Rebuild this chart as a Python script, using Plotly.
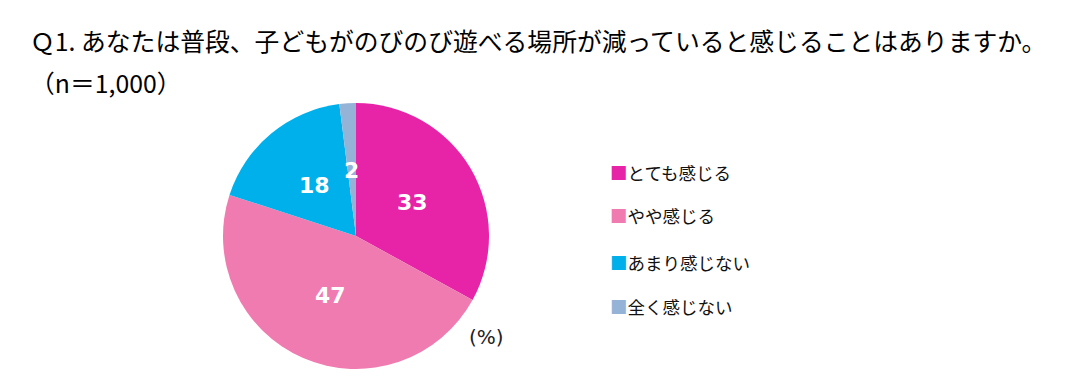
import math
import plotly.graph_objects as go

labels = ["とても感じる", "やや感じる", "あまり感じない", "全く感じない"]
values = [33, 47, 18, 2]
colors = ["#E724A7", "#EF7BB1", "#00B0EA", "#95B3D7"]
title_line1 = "Ｑ1. あなたは普段、子どもがのびのび遊べる場所が減っていると感じることはありますか。"
title_line2 = "（n＝1,000）"
unit_label = "(%)"

W, H = 1068, 391
cx, cy, r = 356, 236, 133

fig = go.Figure()
fig.add_trace(go.Pie(
    labels=labels, values=values, sort=False, direction="clockwise", rotation=0,
    marker=dict(colors=colors, line=dict(width=0)),
    textinfo="none", showlegend=False, hoverinfo="label+value",
    domain=dict(x=[(cx - r) / W, (cx + r) / W], y=[(H - cy - r) / H, (H - cy + r) / H]),
))

font_jp = "Noto Sans CJK JP"
ann = [
    dict(text=title_line1, x=28 / W, y=1 - 40 / H, xanchor="left", yanchor="middle",
         font=dict(family=font_jp, size=24.8, color="#000")),
    dict(text=title_line2, x=28 / W, y=1 - 82 / H, xanchor="left", yanchor="middle",
         font=dict(family=font_jp, size=24.8, color="#000")),
    dict(text=unit_label, x=486 / W, y=1 - 337 / H, xanchor="center", yanchor="middle",
         font=dict(family="DejaVu Sans", size=20, color="#222")),
]
# value labels placed at slice mid-angles
total = sum(values)
cum = 0
for v in values:
    mid = (cum + v / 2) / total * 2 * math.pi
    cum += v
    lx = cx + 0.49 * r * math.sin(mid)
    ly = cy - 0.49 * r * math.cos(mid)
    ann.append(dict(text=f"<b>{v}</b>", x=lx / W, y=1 - ly / H, xanchor="center", yanchor="middle",
                    font=dict(family="DejaVu Sans", size=22, color="white")))

leg_y = [173, 216, 262, 306]
for lab, col, yy in zip(labels, colors, leg_y):
    ann.append(dict(text=f"<span style='color:{col}'>■</span>{lab}", x=608 / W, y=1 - yy / H,
                    xanchor="left", yanchor="middle",
                    font=dict(family=font_jp, size=17.5, color="#111")))
for a in ann:
    a.update(xref="paper", yref="paper", showarrow=False)

fig.update_layout(width=W, height=H, margin=dict(l=0, r=0, t=0, b=0),
                  paper_bgcolor="white", plot_bgcolor="white", annotations=ann)
fig.write_html("out.html")
